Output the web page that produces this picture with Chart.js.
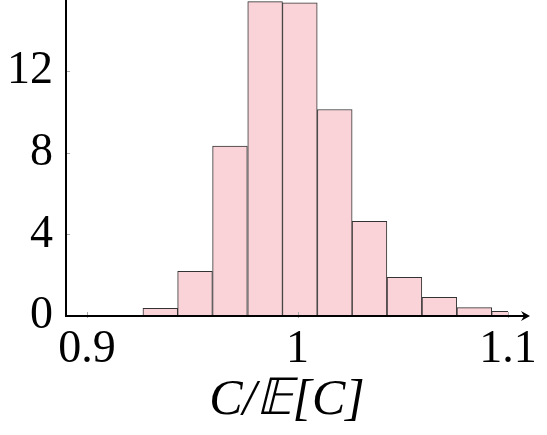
<!DOCTYPE html>
<html>
<head>
<meta charset="utf-8">
<script src="https://cdn.jsdelivr.net/npm/chart.js@4.4.1/dist/chart.umd.min.js"></script>
<style>
  html, body { margin: 0; padding: 0; background: #fff; }
  #wrap { width: 547px; height: 435px; position: relative; }
</style>
</head>
<body>
<div id="wrap"><canvas id="c" width="547" height="435"></canvas></div>
<script>
// Histogram bins (centres of bins, width ~0.01657) and densities
const binCenters = [0.9348, 0.9513, 0.9679, 0.9846, 1.0011, 1.0177, 1.0342, 1.0508, 1.0674, 1.0840, 1.1005];
const densities  = [0.38, 2.19, 8.33, 15.42, 15.36, 10.13, 4.64, 1.90, 0.92, 0.41, 0.23];
const xTickValues = [0.9, 1.0, 1.1];
const xTickLabels = ['0.9', '1', '1.1'];
const yTickValues = [0, 4, 8, 12];
const xTitle = 'C/\u{1D53C}[C]';

const FONT = "'Liberation Serif', 'DejaVu Serif', serif";

const axisPlugin = {
  id: 'axisPlugin',
  afterDraw(chart) {
    const ctx = chart.ctx;
    const xs = chart.scales.x, ys = chart.scales.y;
    const x0 = xs.left, y0 = ys.getPixelForValue(0);
    ctx.save();
    // small inward ticks
    ctx.strokeStyle = '#aaa';
    ctx.lineWidth = 1;
    yTickValues.forEach(v => {
      const py = Math.round(ys.getPixelForValue(v)) + 0.5;
      ctx.beginPath(); ctx.moveTo(x0, py); ctx.lineTo(x0 + 4, py); ctx.stroke();
    });
    xTickValues.forEach(v => {
      const px = Math.round(xs.getPixelForValue(v)) + 0.5;
      ctx.beginPath(); ctx.moveTo(px, y0 - 4); ctx.lineTo(px, y0 + 2); ctx.stroke();
    });
    // axis lines
    ctx.strokeStyle = '#000';
    ctx.lineWidth = 2;
    ctx.beginPath();
    ctx.moveTo(x0, 0); ctx.lineTo(x0, y0);
    ctx.lineTo(xs.right + 18, y0);
    ctx.stroke();
    // arrow head
    const tip = xs.right + 22;
    ctx.fillStyle = '#000';
    ctx.beginPath();
    ctx.moveTo(tip, y0);
    ctx.lineTo(tip - 9, y0 - 5);
    ctx.lineTo(tip - 6, y0);
    ctx.lineTo(tip - 9, y0 + 5);
    ctx.closePath();
    ctx.fill();
    ctx.restore();
  }
};

new Chart(document.getElementById('c'), {
  type: 'bar',
  data: {
    datasets: [{
      data: binCenters.map((x, i) => ({ x: x, y: densities[i] })),
      backgroundColor: '#f9d3d8',
      borderColor: '#333',
      borderWidth: 1,
      borderSkipped: false,
      barPercentage: 1.0,
      categoryPercentage: 1.0
    }]
  },
  plugins: [axisPlugin],
  options: {
    responsive: false,
    animation: false,
    layout: { padding: { left: 0, right: 39, top: 0, bottom: 0 } },
    plugins: { legend: { display: false }, tooltip: { enabled: false } },
    scales: {
      x: {
        type: 'linear',
        min: 0.89,
        max: 1.1,
        offset: false,
        grid: { display: false, drawTicks: false },
        border: { display: false },
        afterBuildTicks(scale) { scale.ticks = xTickValues.map(v => ({ value: v })); },
        afterFit(scale) { scale.height = 119; scale.paddingLeft = 0; scale.paddingRight = 0; },
        ticks: {
          autoSkip: false,
          maxRotation: 0,
          padding: 6,
          color: '#000',
          font: { family: FONT, size: 46 },
          callback: (v) => xTickLabels[xTickValues.indexOf(v)] ?? ''
        },
        title: {
          display: true,
          text: xTitle,
          color: '#000',
          padding: { top: 0, bottom: 4 },
          font: { family: FONT, size: 50, style: 'italic' }
        }
      },
      y: {
        min: 0,
        max: 15.5,
        grid: { display: false, drawTicks: false },
        border: { display: false },
        afterBuildTicks(scale) { scale.ticks = yTickValues.map(v => ({ value: v })); },
        afterFit(scale) { scale.width = 66; scale.paddingTop = 0; scale.paddingBottom = 0; },
        ticks: {
          padding: 13,
          color: '#000',
          font: { family: FONT, size: 46 }
        }
      }
    }
  }
});
</script>
</body>
</html>
